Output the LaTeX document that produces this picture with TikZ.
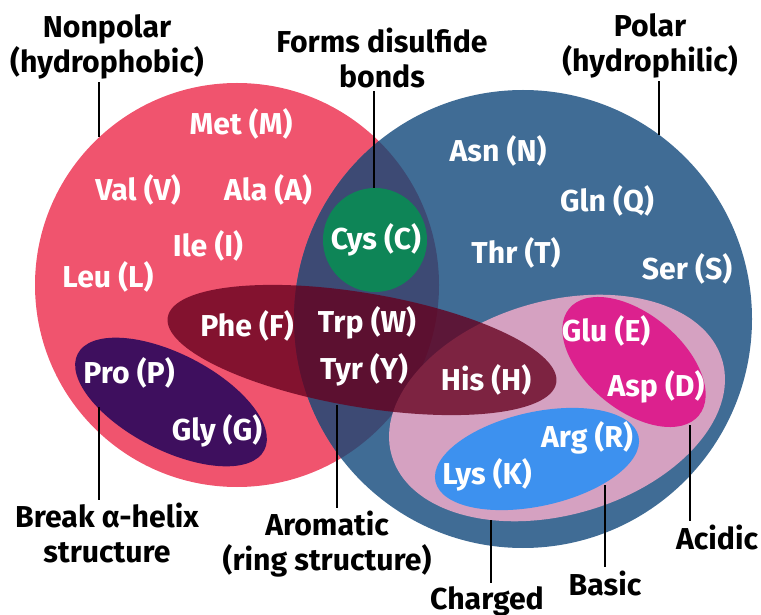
\documentclass[tikz,border=0pt]{standalone}
\usepackage{fontspec}
\setmainfont{Fira Sans}
\usetikzlibrary{calc}
\definecolor{nonpolarRed}{RGB}{240,84,110}
\definecolor{polarBlue}{RGB}{64,108,149}
\definecolor{overlapBlue}{RGB}{61,74,116}
\definecolor{cysGreen}{RGB}{14,133,87}
\definecolor{aromaRed}{RGB}{101,0,30}
\definecolor{chargedPink}{RGB}{213,161,193}
\definecolor{acidMagenta}{RGB}{220,33,142}
\definecolor{basicBlue}{RGB}{61,145,239}
\definecolor{helixPurple}{RGB}{62,15,94}

\begin{document}
\begin{tikzpicture}[x=0.025cm,y=-0.025cm,
  amino/.style={text=white,font=\fontsize{21.5}{23}\selectfont\bfseries,inner sep=0pt},
  tag/.style={text=black,align=center,font=\fontsize{21.5}{25}\selectfont\bfseries,inner sep=2pt},
  leader/.style={line width=1.4pt}]
\useasboundingbox (0,0) rectangle (761,615);
% the two big sets
\fill[nonpolarRed] (237,285) circle (202);
\fill[polarBlue] (523,319) circle (229);
\begin{scope}
\clip (237,285) circle (202);
\fill[overlapBlue] (523,319) circle (229);
\end{scope}
% subsets
\fill[chargedPink,rotate around={16:(557,408)}] (557,408) ellipse (172 and 107);
\fill[aromaRed,fill opacity=0.78,rotate around={-9.6:(362,350)}] (362,350) ellipse (197 and 57);
\fill[acidMagenta,rotate around={-39.5:(634,362)}] (634,362) ellipse (84 and 48);
\fill[basicBlue,rotate around={12.5:(537,459)}] (537,459) ellipse (104 and 47);
\fill[helixPurple,rotate around={-27.3:(171,402)}] (171,402) ellipse (105 and 48);
\fill[cysGreen] (375,240) circle (52);

% amino acids
\node[amino] (met) at (241,124) {Met (M)};
\node[amino] (val) at (138,190) {Val (V)};
\node[amino] (ala) at (268,190) {Ala (A)};
\node[amino] (ile) at (208,246) {Ile (I)};
\node[amino] (leu) at (108,277) {Leu (L)};
\node[amino] (cys) at (376,240) {Cys (C)};
\node[amino] (asn) at (498,151) {Asn (N)};
\node[amino] (gln) at (607,201) {Gln (Q)};
\node[amino] (thr) at (516,253) {Thr (T)};
\node[amino] (ser) at (687,269) {Ser (S)};
\node[amino] (phe) at (247,326) {Phe (F)};
\node[amino] (trp) at (367,323) {Trp (W)};
\node[amino] (tyr) at (364,370) {Tyr (Y)};
\node[amino] (his) at (486,380) {His (H)};
\node[amino] (glu) at (606,331) {Glu (E)};
\node[amino] (asp) at (656,387) {Asp (D)};
\node[amino] (arg) at (587,438) {Arg (R)};
\node[amino] (lys) at (487,475) {Lys (K)};
\node[amino] (pro) at (129,373) {Pro (P)};
\node[amino] (gly) at (217,431) {Gly (G)};

% group labels
\node[tag] (nonpolar) at (107,47) {Nonpolar\\(hydrophobic)};
\node[tag] (disulfide) at (382,58) {Forms disulfide\\bonds};
\node[tag] (polar) at (650,46) {Polar\\(hydrophilic)};
\node[tag] (helix) at (107,533) {Break α-helix\\structure};
\node[tag] (aromatic) at (327,544) {Aromatic\\(ring structure)};
\node[tag] (charged) at (487,601) {Charged};
\node[tag] (basic) at (605,583) {Basic};
\node[tag] (acidic) at (717,537) {Acidic};

\coordinate (nonpolarTip) at (99,137);
\coordinate (disulfideTip) at (374,188);
\coordinate (polarTip) at (659,135);
\coordinate (helixTip) at (99,407);
\coordinate (aromaticTip) at (337,405);
\coordinate (chargedTip) at (491,520);
\coordinate (basicTip) at (605,485);
\coordinate (acidicTip) at (690,425);

\draw[leader] (nonpolarTip) -- (nonpolarTip |- nonpolar.south);
\draw[leader] (disulfideTip) -- (disulfideTip |- disulfide.south);
\draw[leader] (polarTip) -- (polarTip |- polar.south);
\draw[leader] (helixTip) -- (helixTip |- helix.north);
\draw[leader] (aromaticTip) -- (aromaticTip |- aromatic.north);
\draw[leader] (chargedTip) -- (chargedTip |- charged.north);
\draw[leader] (basicTip) -- (basicTip |- basic.north);
\draw[leader] (acidicTip) -- (acidicTip |- acidic.north);
\end{tikzpicture}
\end{document}
